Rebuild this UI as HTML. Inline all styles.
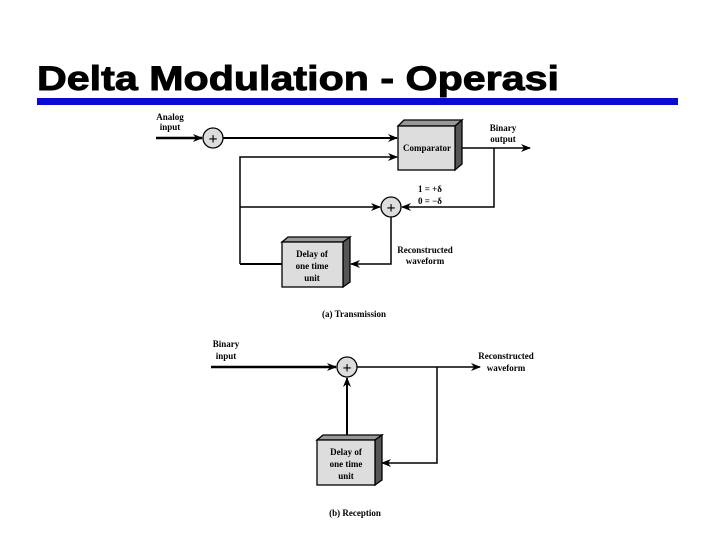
<!DOCTYPE html>
<html><head><style>body{margin:0;background:#fff}svg{display:block}</style></head><body>
<svg width="720" height="540" xmlns="http://www.w3.org/2000/svg" font-family="Liberation Serif, serif">
<defs><marker id="a" markerWidth="10" markerHeight="8" refX="9" refY="4" orient="auto" markerUnits="userSpaceOnUse"><path d="M0,0 L10,4 L0,8 L3,4 z" fill="#000"/></marker></defs>
<text x="37" y="90" font-family="Liberation Sans, sans-serif" font-weight="bold" font-size="34" textLength="522" lengthAdjust="spacingAndGlyphs" stroke="#000" stroke-width="0.9">Delta Modulation - Operasi</text>
<rect x="37" y="98" width="641" height="7" fill="#0a0ad0"/>
<g stroke="#000" fill="none" stroke-width="1.5">
<line x1="156" y1="138" x2="202" y2="138" stroke-width="2.5" marker-end="url(#a)"/>
<line x1="223" y1="138" x2="397" y2="138" stroke-width="2" marker-end="url(#a)"/>
<polyline points="240,264 240,157 397,157" marker-end="url(#a)"/>
<line x1="455" y1="148" x2="530" y2="148" marker-end="url(#a)"/>
<polyline points="494,148 494,207 402,207" marker-end="url(#a)"/>
<line x1="240" y1="207" x2="380" y2="207" marker-end="url(#a)"/>
<polyline points="391,217 391,264 351,264" marker-end="url(#a)"/>
<line x1="282" y1="264" x2="240" y2="264" stroke-width="2"/>
<line x1="211" y1="367" x2="336" y2="367" stroke-width="2.5" marker-end="url(#a)"/>
<line x1="357" y1="367" x2="480" y2="367" marker-end="url(#a)"/>
<polyline points="437,367 437,463 382,463" marker-end="url(#a)"/>
<line x1="347" y1="436" x2="347" y2="378" stroke-width="2" marker-end="url(#a)"/>
</g>
<g stroke="#000" stroke-width="1.3">
<circle cx="213" cy="138" r="10" fill="#ddd"/>
<circle cx="391" cy="207" r="10" fill="#ddd"/>
<circle cx="347" cy="367" r="10" fill="#ddd"/>
<polygon points="398,126 404,120 462,120 455,126" fill="#999"/>
<polygon points="455,126 462,120 462,164 455,170" fill="#555"/>
<rect x="398" y="126" width="57" height="44" fill="#ddd"/>
<polygon points="282,242 288,237 350,237 343,242" fill="#999"/>
<polygon points="343,242 350,237 350,282 343,287" fill="#555"/>
<rect x="282" y="242" width="61" height="45" fill="#ddd"/>
<polygon points="317,440 323,435 382,435 375,440" fill="#999"/>
<polygon points="375,440 382,435 382,480 375,485" fill="#555"/>
<rect x="317" y="440" width="58" height="45" fill="#ddd"/>
</g>
<g font-size="16" font-weight="bold" text-anchor="middle">
<text x="213" y="144">+</text><text x="391" y="213">+</text><text x="347" y="373">+</text>
</g>
<g font-size="9" text-anchor="middle" font-weight="bold">
<text x="170" y="120">Analog</text><text x="170" y="130">input</text>
<text x="427" y="151">Comparator</text>
<text x="503" y="131">Binary</text><text x="503" y="142">output</text>
<text x="312" y="257">Delay of</text><text x="312" y="269">one time</text><text x="312" y="281">unit</text>
<text x="425" y="253">Reconstructed</text><text x="425" y="264">waveform</text>
<text x="354" y="317">(a) Transmission</text>
<text x="226" y="347">Binary</text><text x="226" y="359">input</text>
<text x="506" y="359">Reconstructed</text><text x="506" y="371">waveform</text>
<text x="346" y="455">Delay of</text><text x="346" y="467">one time</text><text x="346" y="479">unit</text>
<text x="355" y="516">(b) Reception</text>
</g>
<g font-size="9" font-weight="bold">
<text x="418" y="192">1 = +δ</text><text x="418" y="204">0 = −δ</text>
</g>
</svg>
</body></html>
